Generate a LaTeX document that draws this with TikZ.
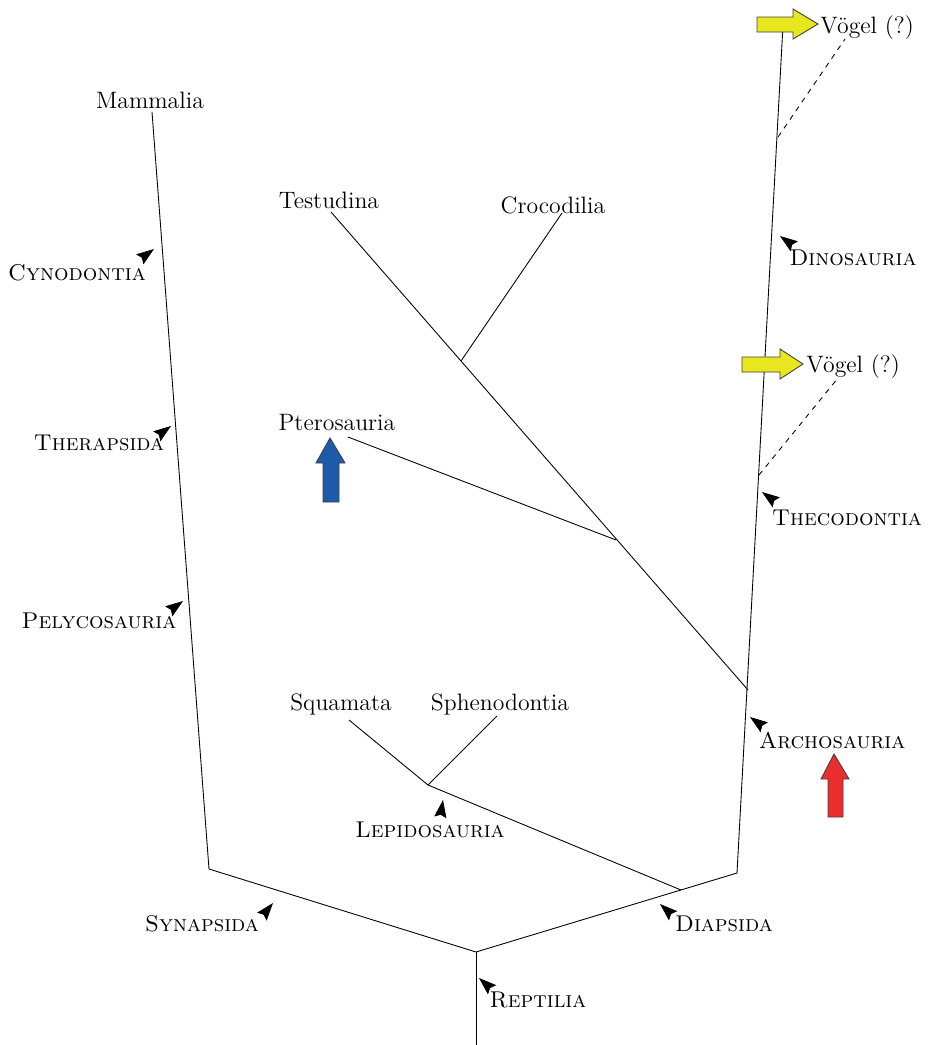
\documentclass[tikz,border=0pt]{standalone}
\usepackage{fontspec}
\usetikzlibrary{arrows.meta}

\definecolor{birdyellow}{RGB}{232,230,30}
\definecolor{pteroblue}{RGB}{30,90,170}
\definecolor{archored}{RGB}{236,45,45}

\tikzset{
	taxon/.style={font=\fontsize{13.5}{16}\selectfont, inner sep=0pt},
	clade/.style={font=\fontsize{13}{16}\selectfont\scshape, inner sep=0pt},
	pointer/.style={-{Stealth[length=10pt,width=7pt,inset=1.5pt]}, black},
	branch/.style={draw=black, line width=0.5pt},
	hint/.style={draw=black, line width=0.5pt, dashed},
	bigarrow/.style={draw=black!75, line width=0.5pt, line join=miter}
}

\begin{document}
\begin{tikzpicture}[x=0.02cm, y=-0.02cm]
	\useasboundingbox (0,0) rectangle (928,1045);

	% branch points
	\coordinate (root) at (476,1045);
	\coordinate (rept) at (476,952);
	\coordinate (syn) at (209,869);
	\coordinate (mam) at (152,112);
	\coordinate (dia) at (737,873);
	\coordinate (dinotop) at (783,25);
	\coordinate (lepj) at (681,890);
	\coordinate (lep) at (428,785);
	\coordinate (squ) at (349,720);
	\coordinate (sph) at (497,716);
	\coordinate (arc) at (748,690);
	\coordinate (tes) at (331,212);
	\coordinate (ptej) at (616,540);
	\coordinate (pte) at (348,437);
	\coordinate (croj) at (461,361);
	\coordinate (cro) at (562,213);
	\coordinate (bird1) at (778,137);
	\coordinate (bird1end) at (845,39);
	\coordinate (bird2) at (759,475);
	\coordinate (bird2end) at (838,378);

	\begin{scope}[every path/.style={branch}]
		\draw (root) -- (rept);
		\draw (mam) -- (syn) -- (rept) -- (dia) -- (dinotop);
		\draw (lepj) -- (lep);
		\draw (squ) -- (lep) -- (sph);
		\draw (arc) -- (tes);
		\draw (ptej) -- (pte);
		\draw (croj) -- (cro);
	\end{scope}
	\draw[hint] (bird1) -- (bird1end);
	\draw[hint] (bird2) -- (bird2end);

	% taxa
	\node[taxon, anchor=base] (Mammalia) at (150,108) {Mammalia};
	\node[taxon, anchor=base] (Testudina) at (329,208) {Testudina};
	\node[taxon, anchor=base] (Crocodilia) at (553,213) {Crocodilia};
	\node[taxon, anchor=base] (Pterosauria) at (337,430) {Pterosauria};
	\node[taxon, anchor=base] (Squamata) at (341,710) {Squamata};
	\node[taxon, anchor=base] (Sphenodontia) at (500,710) {Sphenodontia};
	\node[taxon, anchor=base west] (VoegelA) at (820,33) {Vögel (?)};
	\node[taxon, anchor=base west] (VoegelB) at (806,372) {Vögel (?)};

	% clades
	\node[clade, anchor=base] (Cynodontia) at (77,280) {Cynodontia};
	\node[clade, anchor=base] (Therapsida) at (99,450) {Therapsida};
	\node[clade, anchor=base] (Pelycosauria) at (99,628) {Pelycosauria};
	\node[clade, anchor=base] (Synapsida) at (202,931) {Synapsida};
	\node[clade, anchor=base] (Reptilia) at (538,1007) {Reptilia};
	\node[clade, anchor=base] (Diapsida) at (724,931) {Diapsida};
	\node[clade, anchor=base] (Lepidosauria) at (430,837) {Lepidosauria};
	\node[clade, anchor=base] (Archosauria) at (832,748) {Archosauria};
	\node[clade, anchor=base] (Thecodontia) at (847,525) {Thecodontia};
	\node[clade, anchor=base] (Dinosauria) at (853,265) {Dinosauria};

	% pointers
	\draw[pointer] (143,257) -- (154,249);
	\draw[pointer] (160,434) -- (171,426);
	\draw[pointer] (172,609) -- (183,601);
	\draw[pointer] (264,914) -- (273,903);
	\draw[pointer] (489,987) -- (479,978);
	\draw[pointer] (670,913) -- (660,904);
	\draw[pointer] (441,813) -- (443,800);
	\draw[pointer] (761,725) -- (750,717);
	\draw[pointer] (773,500) -- (762,492);
	\draw[pointer] (791,244) -- (780,236);

	% block arrows
	\filldraw[bigarrow, fill=birdyellow] (757,17) -- (793,17) -- (793,9) -- (818,24)
		-- (793,39) -- (793,32) -- (757,32) -- cycle;
	\filldraw[bigarrow, fill=birdyellow] (742,357) -- (780,357) -- (780,349) -- (803,364)
		-- (780,379) -- (780,372) -- (742,372) -- cycle;
	\filldraw[bigarrow, fill=pteroblue] (323,502) -- (323,463) -- (316,463) -- (330,438)
		-- (345,463) -- (339,463) -- (339,502) -- cycle;
	\filldraw[bigarrow, fill=archored] (828,817) -- (828,779) -- (821,779) -- (834,754)
		-- (849,779) -- (843,779) -- (843,817) -- cycle;
\end{tikzpicture}
\end{document}
